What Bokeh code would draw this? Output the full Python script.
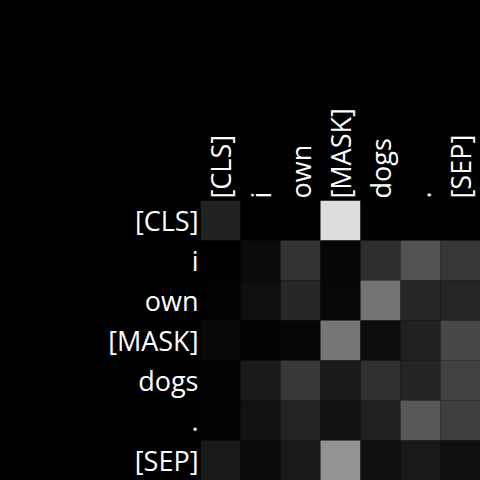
import math
from bokeh.plotting import figure
from bokeh.models import FactorRange, ColumnDataSource, LinearColorMapper
from bokeh.palettes import Greys256
from bokeh.embed import file_html
from bokeh.resources import INLINE

tokens = ["[CLS]", "i", "own", "[MASK]", "dogs", ".", "[SEP]"]

row_cls = [0.133, 0.0, 0.0, 0.867, 0.0, 0.0, 0.0]
row_i = [0.0, 0.043, 0.200, 0.027, 0.180, 0.322, 0.216]
row_own = [0.008, 0.059, 0.153, 0.031, 0.455, 0.153, 0.145]
row_mask = [0.039, 0.016, 0.027, 0.467, 0.047, 0.129, 0.278]
row_dogs = [0.012, 0.102, 0.220, 0.102, 0.188, 0.141, 0.259]
row_dot = [0.016, 0.071, 0.137, 0.071, 0.129, 0.345, 0.247]
row_sep = [0.098, 0.043, 0.098, 0.576, 0.063, 0.098, 0.059]

rows = [row_cls, row_i, row_own, row_mask, row_dogs, row_dot, row_sep]

xs, ys, vals = [], [], []
for r, row in zip(tokens, rows):
    for c, v in zip(tokens, row):
        xs.append(c)
        ys.append(r)
        vals.append(v)

src = ColumnDataSource(dict(x=xs, y=ys, v=vals))
mapper = LinearColorMapper(palette=Greys256, low=0, high=1)

p = figure(width=472, height=472, output_backend="svg", toolbar_location=None,
           x_range=FactorRange(*tokens), y_range=FactorRange(*reversed(tokens)),
           x_axis_location="above",
           min_border_left=192, min_border_top=192, min_border_right=0, min_border_bottom=0)
p.background_fill_color = "black"
p.border_fill_color = "black"
p.outline_line_color = None
p.grid.grid_line_color = None

p.rect(x="x", y="y", width=1, height=1, source=src,
       fill_color={"field": "v", "transform": mapper}, line_color=None)

for ax in (p.xaxis[0], p.yaxis[0]):
    ax.axis_line_color = None
    ax.major_tick_line_color = None
    ax.minor_tick_line_color = None
    ax.major_label_text_color = "white"
    ax.major_label_text_font = "Open Sans"
    ax.major_label_text_font_size = "27px"
p.xaxis[0].major_label_orientation = math.pi / 2
p.xaxis[0].major_label_standoff = -4
p.yaxis[0].major_label_standoff = -4

html = file_html(p, INLINE)
html = html.replace("<body>", '<body style="margin:8px 0 0 8px;background:#000;overflow:hidden">')
open("out.html", "w").write(html)
